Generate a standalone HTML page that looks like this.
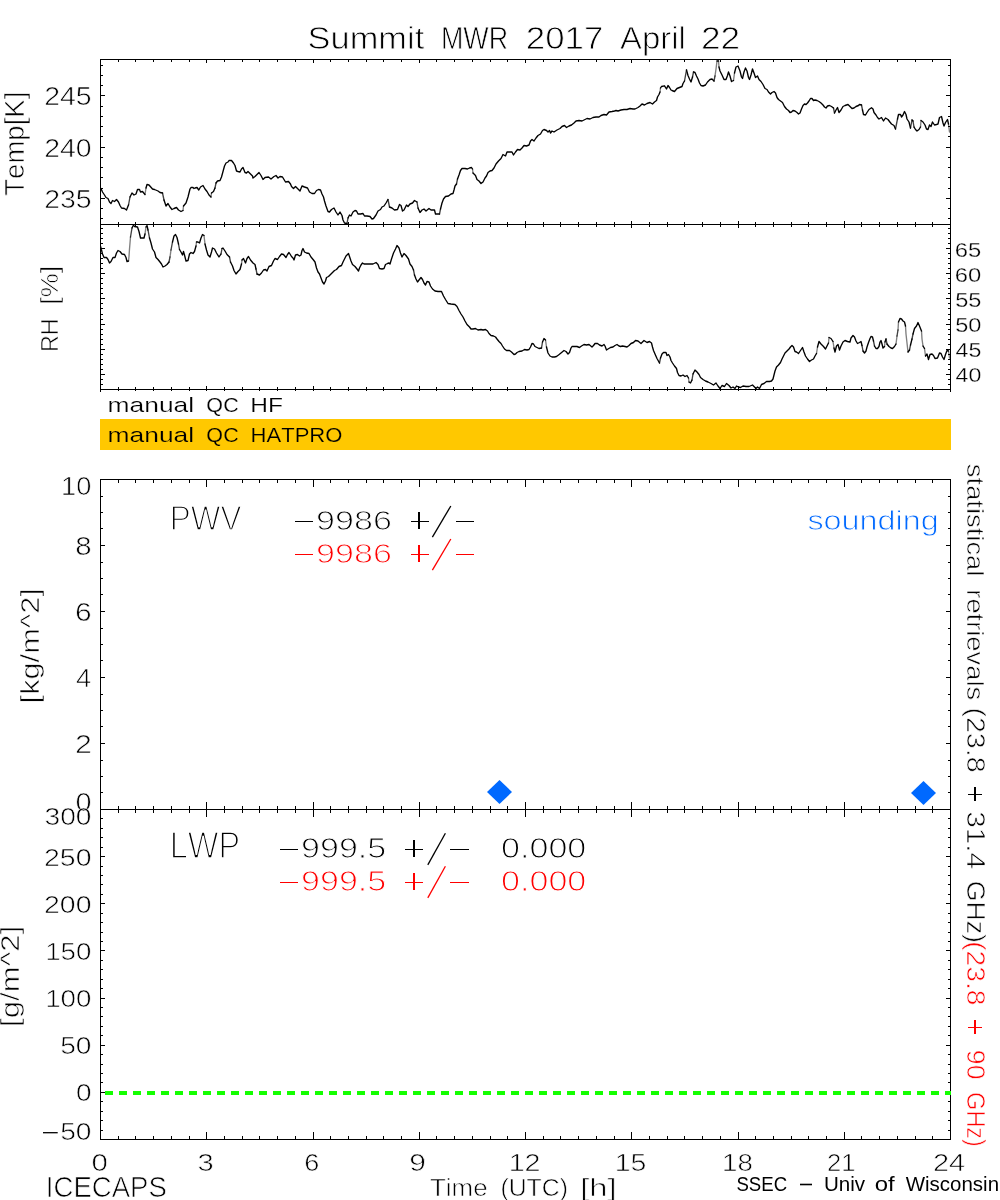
<!DOCTYPE html>
<html><head><meta charset="utf-8"><style>
html,body{margin:0;padding:0;background:#fff;}
svg{display:block;will-change:transform;}
text{font-family:"Liberation Sans", sans-serif;font-kerning:none;}
</style></head><body>
<svg width="1000" height="1200" viewBox="0 0 1000 1200">
<rect width="1000" height="1200" fill="#fff"/>
<rect x="100" y="59" width="851" height="1" fill="#000"/>
<rect x="100" y="224" width="851" height="1" fill="#000"/>
<rect x="100" y="389" width="851" height="1" fill="#000"/>
<rect x="100" y="479" width="851" height="1" fill="#000"/>
<rect x="100" y="809" width="851" height="1" fill="#000"/>
<rect x="100" y="1139" width="851" height="1" fill="#000"/>
<rect x="100" y="59" width="1" height="333" fill="#000"/>
<rect x="950" y="59" width="1" height="333" fill="#000"/>
<rect x="100" y="479" width="1" height="661" fill="#000"/>
<rect x="950" y="479" width="1" height="661" fill="#000"/>
<rect x="118" y="60" width="1" height="2" fill="#000"/>
<rect x="118" y="222" width="1" height="2" fill="#000"/>
<rect x="135" y="60" width="1" height="2" fill="#000"/>
<rect x="135" y="222" width="1" height="2" fill="#000"/>
<rect x="153" y="60" width="1" height="2" fill="#000"/>
<rect x="153" y="222" width="1" height="2" fill="#000"/>
<rect x="171" y="60" width="1" height="2" fill="#000"/>
<rect x="171" y="222" width="1" height="2" fill="#000"/>
<rect x="189" y="60" width="1" height="2" fill="#000"/>
<rect x="189" y="222" width="1" height="2" fill="#000"/>
<rect x="206" y="60" width="1" height="3" fill="#000"/>
<rect x="206" y="221" width="1" height="3" fill="#000"/>
<rect x="224" y="60" width="1" height="2" fill="#000"/>
<rect x="224" y="222" width="1" height="2" fill="#000"/>
<rect x="242" y="60" width="1" height="2" fill="#000"/>
<rect x="242" y="222" width="1" height="2" fill="#000"/>
<rect x="259" y="60" width="1" height="2" fill="#000"/>
<rect x="259" y="222" width="1" height="2" fill="#000"/>
<rect x="277" y="60" width="1" height="2" fill="#000"/>
<rect x="277" y="222" width="1" height="2" fill="#000"/>
<rect x="295" y="60" width="1" height="2" fill="#000"/>
<rect x="295" y="222" width="1" height="2" fill="#000"/>
<rect x="313" y="60" width="1" height="3" fill="#000"/>
<rect x="313" y="221" width="1" height="3" fill="#000"/>
<rect x="330" y="60" width="1" height="2" fill="#000"/>
<rect x="330" y="222" width="1" height="2" fill="#000"/>
<rect x="348" y="60" width="1" height="2" fill="#000"/>
<rect x="348" y="222" width="1" height="2" fill="#000"/>
<rect x="366" y="60" width="1" height="2" fill="#000"/>
<rect x="366" y="222" width="1" height="2" fill="#000"/>
<rect x="383" y="60" width="1" height="2" fill="#000"/>
<rect x="383" y="222" width="1" height="2" fill="#000"/>
<rect x="401" y="60" width="1" height="2" fill="#000"/>
<rect x="401" y="222" width="1" height="2" fill="#000"/>
<rect x="419" y="60" width="1" height="3" fill="#000"/>
<rect x="419" y="221" width="1" height="3" fill="#000"/>
<rect x="436" y="60" width="1" height="2" fill="#000"/>
<rect x="436" y="222" width="1" height="2" fill="#000"/>
<rect x="454" y="60" width="1" height="2" fill="#000"/>
<rect x="454" y="222" width="1" height="2" fill="#000"/>
<rect x="472" y="60" width="1" height="2" fill="#000"/>
<rect x="472" y="222" width="1" height="2" fill="#000"/>
<rect x="490" y="60" width="1" height="2" fill="#000"/>
<rect x="490" y="222" width="1" height="2" fill="#000"/>
<rect x="507" y="60" width="1" height="2" fill="#000"/>
<rect x="507" y="222" width="1" height="2" fill="#000"/>
<rect x="525" y="60" width="1" height="3" fill="#000"/>
<rect x="525" y="221" width="1" height="3" fill="#000"/>
<rect x="543" y="60" width="1" height="2" fill="#000"/>
<rect x="543" y="222" width="1" height="2" fill="#000"/>
<rect x="560" y="60" width="1" height="2" fill="#000"/>
<rect x="560" y="222" width="1" height="2" fill="#000"/>
<rect x="578" y="60" width="1" height="2" fill="#000"/>
<rect x="578" y="222" width="1" height="2" fill="#000"/>
<rect x="596" y="60" width="1" height="2" fill="#000"/>
<rect x="596" y="222" width="1" height="2" fill="#000"/>
<rect x="614" y="60" width="1" height="2" fill="#000"/>
<rect x="614" y="222" width="1" height="2" fill="#000"/>
<rect x="631" y="60" width="1" height="3" fill="#000"/>
<rect x="631" y="221" width="1" height="3" fill="#000"/>
<rect x="649" y="60" width="1" height="2" fill="#000"/>
<rect x="649" y="222" width="1" height="2" fill="#000"/>
<rect x="667" y="60" width="1" height="2" fill="#000"/>
<rect x="667" y="222" width="1" height="2" fill="#000"/>
<rect x="684" y="60" width="1" height="2" fill="#000"/>
<rect x="684" y="222" width="1" height="2" fill="#000"/>
<rect x="702" y="60" width="1" height="2" fill="#000"/>
<rect x="702" y="222" width="1" height="2" fill="#000"/>
<rect x="720" y="60" width="1" height="2" fill="#000"/>
<rect x="720" y="222" width="1" height="2" fill="#000"/>
<rect x="738" y="60" width="1" height="3" fill="#000"/>
<rect x="738" y="221" width="1" height="3" fill="#000"/>
<rect x="755" y="60" width="1" height="2" fill="#000"/>
<rect x="755" y="222" width="1" height="2" fill="#000"/>
<rect x="773" y="60" width="1" height="2" fill="#000"/>
<rect x="773" y="222" width="1" height="2" fill="#000"/>
<rect x="791" y="60" width="1" height="2" fill="#000"/>
<rect x="791" y="222" width="1" height="2" fill="#000"/>
<rect x="808" y="60" width="1" height="2" fill="#000"/>
<rect x="808" y="222" width="1" height="2" fill="#000"/>
<rect x="826" y="60" width="1" height="2" fill="#000"/>
<rect x="826" y="222" width="1" height="2" fill="#000"/>
<rect x="844" y="60" width="1" height="3" fill="#000"/>
<rect x="844" y="221" width="1" height="3" fill="#000"/>
<rect x="861" y="60" width="1" height="2" fill="#000"/>
<rect x="861" y="222" width="1" height="2" fill="#000"/>
<rect x="879" y="60" width="1" height="2" fill="#000"/>
<rect x="879" y="222" width="1" height="2" fill="#000"/>
<rect x="897" y="60" width="1" height="2" fill="#000"/>
<rect x="897" y="222" width="1" height="2" fill="#000"/>
<rect x="915" y="60" width="1" height="2" fill="#000"/>
<rect x="915" y="222" width="1" height="2" fill="#000"/>
<rect x="932" y="60" width="1" height="2" fill="#000"/>
<rect x="932" y="222" width="1" height="2" fill="#000"/>
<rect x="118" y="225" width="1" height="2" fill="#000"/>
<rect x="118" y="387" width="1" height="2" fill="#000"/>
<rect x="135" y="225" width="1" height="2" fill="#000"/>
<rect x="135" y="387" width="1" height="2" fill="#000"/>
<rect x="153" y="225" width="1" height="2" fill="#000"/>
<rect x="153" y="387" width="1" height="2" fill="#000"/>
<rect x="171" y="225" width="1" height="2" fill="#000"/>
<rect x="171" y="387" width="1" height="2" fill="#000"/>
<rect x="189" y="225" width="1" height="2" fill="#000"/>
<rect x="189" y="387" width="1" height="2" fill="#000"/>
<rect x="206" y="225" width="1" height="3" fill="#000"/>
<rect x="206" y="386" width="1" height="3" fill="#000"/>
<rect x="224" y="225" width="1" height="2" fill="#000"/>
<rect x="224" y="387" width="1" height="2" fill="#000"/>
<rect x="242" y="225" width="1" height="2" fill="#000"/>
<rect x="242" y="387" width="1" height="2" fill="#000"/>
<rect x="259" y="225" width="1" height="2" fill="#000"/>
<rect x="259" y="387" width="1" height="2" fill="#000"/>
<rect x="277" y="225" width="1" height="2" fill="#000"/>
<rect x="277" y="387" width="1" height="2" fill="#000"/>
<rect x="295" y="225" width="1" height="2" fill="#000"/>
<rect x="295" y="387" width="1" height="2" fill="#000"/>
<rect x="313" y="225" width="1" height="3" fill="#000"/>
<rect x="313" y="386" width="1" height="3" fill="#000"/>
<rect x="330" y="225" width="1" height="2" fill="#000"/>
<rect x="330" y="387" width="1" height="2" fill="#000"/>
<rect x="348" y="225" width="1" height="2" fill="#000"/>
<rect x="348" y="387" width="1" height="2" fill="#000"/>
<rect x="366" y="225" width="1" height="2" fill="#000"/>
<rect x="366" y="387" width="1" height="2" fill="#000"/>
<rect x="383" y="225" width="1" height="2" fill="#000"/>
<rect x="383" y="387" width="1" height="2" fill="#000"/>
<rect x="401" y="225" width="1" height="2" fill="#000"/>
<rect x="401" y="387" width="1" height="2" fill="#000"/>
<rect x="419" y="225" width="1" height="3" fill="#000"/>
<rect x="419" y="386" width="1" height="3" fill="#000"/>
<rect x="436" y="225" width="1" height="2" fill="#000"/>
<rect x="436" y="387" width="1" height="2" fill="#000"/>
<rect x="454" y="225" width="1" height="2" fill="#000"/>
<rect x="454" y="387" width="1" height="2" fill="#000"/>
<rect x="472" y="225" width="1" height="2" fill="#000"/>
<rect x="472" y="387" width="1" height="2" fill="#000"/>
<rect x="490" y="225" width="1" height="2" fill="#000"/>
<rect x="490" y="387" width="1" height="2" fill="#000"/>
<rect x="507" y="225" width="1" height="2" fill="#000"/>
<rect x="507" y="387" width="1" height="2" fill="#000"/>
<rect x="525" y="225" width="1" height="3" fill="#000"/>
<rect x="525" y="386" width="1" height="3" fill="#000"/>
<rect x="543" y="225" width="1" height="2" fill="#000"/>
<rect x="543" y="387" width="1" height="2" fill="#000"/>
<rect x="560" y="225" width="1" height="2" fill="#000"/>
<rect x="560" y="387" width="1" height="2" fill="#000"/>
<rect x="578" y="225" width="1" height="2" fill="#000"/>
<rect x="578" y="387" width="1" height="2" fill="#000"/>
<rect x="596" y="225" width="1" height="2" fill="#000"/>
<rect x="596" y="387" width="1" height="2" fill="#000"/>
<rect x="614" y="225" width="1" height="2" fill="#000"/>
<rect x="614" y="387" width="1" height="2" fill="#000"/>
<rect x="631" y="225" width="1" height="3" fill="#000"/>
<rect x="631" y="386" width="1" height="3" fill="#000"/>
<rect x="649" y="225" width="1" height="2" fill="#000"/>
<rect x="649" y="387" width="1" height="2" fill="#000"/>
<rect x="667" y="225" width="1" height="2" fill="#000"/>
<rect x="667" y="387" width="1" height="2" fill="#000"/>
<rect x="684" y="225" width="1" height="2" fill="#000"/>
<rect x="684" y="387" width="1" height="2" fill="#000"/>
<rect x="702" y="225" width="1" height="2" fill="#000"/>
<rect x="702" y="387" width="1" height="2" fill="#000"/>
<rect x="720" y="225" width="1" height="2" fill="#000"/>
<rect x="720" y="387" width="1" height="2" fill="#000"/>
<rect x="738" y="225" width="1" height="3" fill="#000"/>
<rect x="738" y="386" width="1" height="3" fill="#000"/>
<rect x="755" y="225" width="1" height="2" fill="#000"/>
<rect x="755" y="387" width="1" height="2" fill="#000"/>
<rect x="773" y="225" width="1" height="2" fill="#000"/>
<rect x="773" y="387" width="1" height="2" fill="#000"/>
<rect x="791" y="225" width="1" height="2" fill="#000"/>
<rect x="791" y="387" width="1" height="2" fill="#000"/>
<rect x="808" y="225" width="1" height="2" fill="#000"/>
<rect x="808" y="387" width="1" height="2" fill="#000"/>
<rect x="826" y="225" width="1" height="2" fill="#000"/>
<rect x="826" y="387" width="1" height="2" fill="#000"/>
<rect x="844" y="225" width="1" height="3" fill="#000"/>
<rect x="844" y="386" width="1" height="3" fill="#000"/>
<rect x="861" y="225" width="1" height="2" fill="#000"/>
<rect x="861" y="387" width="1" height="2" fill="#000"/>
<rect x="879" y="225" width="1" height="2" fill="#000"/>
<rect x="879" y="387" width="1" height="2" fill="#000"/>
<rect x="897" y="225" width="1" height="2" fill="#000"/>
<rect x="897" y="387" width="1" height="2" fill="#000"/>
<rect x="915" y="225" width="1" height="2" fill="#000"/>
<rect x="915" y="387" width="1" height="2" fill="#000"/>
<rect x="932" y="225" width="1" height="2" fill="#000"/>
<rect x="932" y="387" width="1" height="2" fill="#000"/>
<rect x="118" y="390" width="1" height="1" fill="#000"/>
<rect x="135" y="390" width="1" height="1" fill="#000"/>
<rect x="153" y="390" width="1" height="1" fill="#000"/>
<rect x="171" y="390" width="1" height="1" fill="#000"/>
<rect x="189" y="390" width="1" height="1" fill="#000"/>
<rect x="206" y="390" width="1" height="1" fill="#000"/>
<rect x="224" y="390" width="1" height="1" fill="#000"/>
<rect x="242" y="390" width="1" height="1" fill="#000"/>
<rect x="259" y="390" width="1" height="1" fill="#000"/>
<rect x="277" y="390" width="1" height="1" fill="#000"/>
<rect x="295" y="390" width="1" height="1" fill="#000"/>
<rect x="313" y="390" width="1" height="1" fill="#000"/>
<rect x="330" y="390" width="1" height="1" fill="#000"/>
<rect x="348" y="390" width="1" height="1" fill="#000"/>
<rect x="366" y="390" width="1" height="1" fill="#000"/>
<rect x="383" y="390" width="1" height="1" fill="#000"/>
<rect x="401" y="390" width="1" height="1" fill="#000"/>
<rect x="419" y="390" width="1" height="1" fill="#000"/>
<rect x="436" y="390" width="1" height="1" fill="#000"/>
<rect x="454" y="390" width="1" height="1" fill="#000"/>
<rect x="472" y="390" width="1" height="1" fill="#000"/>
<rect x="490" y="390" width="1" height="1" fill="#000"/>
<rect x="507" y="390" width="1" height="1" fill="#000"/>
<rect x="525" y="390" width="1" height="1" fill="#000"/>
<rect x="543" y="390" width="1" height="1" fill="#000"/>
<rect x="560" y="390" width="1" height="1" fill="#000"/>
<rect x="578" y="390" width="1" height="1" fill="#000"/>
<rect x="596" y="390" width="1" height="1" fill="#000"/>
<rect x="614" y="390" width="1" height="1" fill="#000"/>
<rect x="631" y="390" width="1" height="1" fill="#000"/>
<rect x="649" y="390" width="1" height="1" fill="#000"/>
<rect x="667" y="390" width="1" height="1" fill="#000"/>
<rect x="684" y="390" width="1" height="1" fill="#000"/>
<rect x="702" y="390" width="1" height="1" fill="#000"/>
<rect x="720" y="390" width="1" height="1" fill="#000"/>
<rect x="738" y="390" width="1" height="1" fill="#000"/>
<rect x="755" y="390" width="1" height="1" fill="#000"/>
<rect x="773" y="390" width="1" height="1" fill="#000"/>
<rect x="791" y="390" width="1" height="1" fill="#000"/>
<rect x="808" y="390" width="1" height="1" fill="#000"/>
<rect x="826" y="390" width="1" height="1" fill="#000"/>
<rect x="844" y="390" width="1" height="1" fill="#000"/>
<rect x="861" y="390" width="1" height="1" fill="#000"/>
<rect x="879" y="390" width="1" height="1" fill="#000"/>
<rect x="897" y="390" width="1" height="1" fill="#000"/>
<rect x="915" y="390" width="1" height="1" fill="#000"/>
<rect x="932" y="390" width="1" height="1" fill="#000"/>
<rect x="118" y="480" width="1" height="3" fill="#000"/>
<rect x="118" y="806" width="1" height="3" fill="#000"/>
<rect x="135" y="480" width="1" height="3" fill="#000"/>
<rect x="135" y="806" width="1" height="3" fill="#000"/>
<rect x="153" y="480" width="1" height="3" fill="#000"/>
<rect x="153" y="806" width="1" height="3" fill="#000"/>
<rect x="171" y="480" width="1" height="3" fill="#000"/>
<rect x="171" y="806" width="1" height="3" fill="#000"/>
<rect x="189" y="480" width="1" height="3" fill="#000"/>
<rect x="189" y="806" width="1" height="3" fill="#000"/>
<rect x="206" y="480" width="1" height="7" fill="#000"/>
<rect x="206" y="802" width="1" height="7" fill="#000"/>
<rect x="224" y="480" width="1" height="3" fill="#000"/>
<rect x="224" y="806" width="1" height="3" fill="#000"/>
<rect x="242" y="480" width="1" height="3" fill="#000"/>
<rect x="242" y="806" width="1" height="3" fill="#000"/>
<rect x="259" y="480" width="1" height="3" fill="#000"/>
<rect x="259" y="806" width="1" height="3" fill="#000"/>
<rect x="277" y="480" width="1" height="3" fill="#000"/>
<rect x="277" y="806" width="1" height="3" fill="#000"/>
<rect x="295" y="480" width="1" height="3" fill="#000"/>
<rect x="295" y="806" width="1" height="3" fill="#000"/>
<rect x="313" y="480" width="1" height="7" fill="#000"/>
<rect x="313" y="802" width="1" height="7" fill="#000"/>
<rect x="330" y="480" width="1" height="3" fill="#000"/>
<rect x="330" y="806" width="1" height="3" fill="#000"/>
<rect x="348" y="480" width="1" height="3" fill="#000"/>
<rect x="348" y="806" width="1" height="3" fill="#000"/>
<rect x="366" y="480" width="1" height="3" fill="#000"/>
<rect x="366" y="806" width="1" height="3" fill="#000"/>
<rect x="383" y="480" width="1" height="3" fill="#000"/>
<rect x="383" y="806" width="1" height="3" fill="#000"/>
<rect x="401" y="480" width="1" height="3" fill="#000"/>
<rect x="401" y="806" width="1" height="3" fill="#000"/>
<rect x="419" y="480" width="1" height="7" fill="#000"/>
<rect x="419" y="802" width="1" height="7" fill="#000"/>
<rect x="436" y="480" width="1" height="3" fill="#000"/>
<rect x="436" y="806" width="1" height="3" fill="#000"/>
<rect x="454" y="480" width="1" height="3" fill="#000"/>
<rect x="454" y="806" width="1" height="3" fill="#000"/>
<rect x="472" y="480" width="1" height="3" fill="#000"/>
<rect x="472" y="806" width="1" height="3" fill="#000"/>
<rect x="490" y="480" width="1" height="3" fill="#000"/>
<rect x="490" y="806" width="1" height="3" fill="#000"/>
<rect x="507" y="480" width="1" height="3" fill="#000"/>
<rect x="507" y="806" width="1" height="3" fill="#000"/>
<rect x="525" y="480" width="1" height="7" fill="#000"/>
<rect x="525" y="802" width="1" height="7" fill="#000"/>
<rect x="543" y="480" width="1" height="3" fill="#000"/>
<rect x="543" y="806" width="1" height="3" fill="#000"/>
<rect x="560" y="480" width="1" height="3" fill="#000"/>
<rect x="560" y="806" width="1" height="3" fill="#000"/>
<rect x="578" y="480" width="1" height="3" fill="#000"/>
<rect x="578" y="806" width="1" height="3" fill="#000"/>
<rect x="596" y="480" width="1" height="3" fill="#000"/>
<rect x="596" y="806" width="1" height="3" fill="#000"/>
<rect x="614" y="480" width="1" height="3" fill="#000"/>
<rect x="614" y="806" width="1" height="3" fill="#000"/>
<rect x="631" y="480" width="1" height="7" fill="#000"/>
<rect x="631" y="802" width="1" height="7" fill="#000"/>
<rect x="649" y="480" width="1" height="3" fill="#000"/>
<rect x="649" y="806" width="1" height="3" fill="#000"/>
<rect x="667" y="480" width="1" height="3" fill="#000"/>
<rect x="667" y="806" width="1" height="3" fill="#000"/>
<rect x="684" y="480" width="1" height="3" fill="#000"/>
<rect x="684" y="806" width="1" height="3" fill="#000"/>
<rect x="702" y="480" width="1" height="3" fill="#000"/>
<rect x="702" y="806" width="1" height="3" fill="#000"/>
<rect x="720" y="480" width="1" height="3" fill="#000"/>
<rect x="720" y="806" width="1" height="3" fill="#000"/>
<rect x="738" y="480" width="1" height="7" fill="#000"/>
<rect x="738" y="802" width="1" height="7" fill="#000"/>
<rect x="755" y="480" width="1" height="3" fill="#000"/>
<rect x="755" y="806" width="1" height="3" fill="#000"/>
<rect x="773" y="480" width="1" height="3" fill="#000"/>
<rect x="773" y="806" width="1" height="3" fill="#000"/>
<rect x="791" y="480" width="1" height="3" fill="#000"/>
<rect x="791" y="806" width="1" height="3" fill="#000"/>
<rect x="808" y="480" width="1" height="3" fill="#000"/>
<rect x="808" y="806" width="1" height="3" fill="#000"/>
<rect x="826" y="480" width="1" height="3" fill="#000"/>
<rect x="826" y="806" width="1" height="3" fill="#000"/>
<rect x="844" y="480" width="1" height="7" fill="#000"/>
<rect x="844" y="802" width="1" height="7" fill="#000"/>
<rect x="861" y="480" width="1" height="3" fill="#000"/>
<rect x="861" y="806" width="1" height="3" fill="#000"/>
<rect x="879" y="480" width="1" height="3" fill="#000"/>
<rect x="879" y="806" width="1" height="3" fill="#000"/>
<rect x="897" y="480" width="1" height="3" fill="#000"/>
<rect x="897" y="806" width="1" height="3" fill="#000"/>
<rect x="915" y="480" width="1" height="3" fill="#000"/>
<rect x="915" y="806" width="1" height="3" fill="#000"/>
<rect x="932" y="480" width="1" height="3" fill="#000"/>
<rect x="932" y="806" width="1" height="3" fill="#000"/>
<rect x="118" y="810" width="1" height="3" fill="#000"/>
<rect x="118" y="1136" width="1" height="3" fill="#000"/>
<rect x="135" y="810" width="1" height="3" fill="#000"/>
<rect x="135" y="1136" width="1" height="3" fill="#000"/>
<rect x="153" y="810" width="1" height="3" fill="#000"/>
<rect x="153" y="1136" width="1" height="3" fill="#000"/>
<rect x="171" y="810" width="1" height="3" fill="#000"/>
<rect x="171" y="1136" width="1" height="3" fill="#000"/>
<rect x="189" y="810" width="1" height="3" fill="#000"/>
<rect x="189" y="1136" width="1" height="3" fill="#000"/>
<rect x="206" y="810" width="1" height="7" fill="#000"/>
<rect x="206" y="1132" width="1" height="7" fill="#000"/>
<rect x="224" y="810" width="1" height="3" fill="#000"/>
<rect x="224" y="1136" width="1" height="3" fill="#000"/>
<rect x="242" y="810" width="1" height="3" fill="#000"/>
<rect x="242" y="1136" width="1" height="3" fill="#000"/>
<rect x="259" y="810" width="1" height="3" fill="#000"/>
<rect x="259" y="1136" width="1" height="3" fill="#000"/>
<rect x="277" y="810" width="1" height="3" fill="#000"/>
<rect x="277" y="1136" width="1" height="3" fill="#000"/>
<rect x="295" y="810" width="1" height="3" fill="#000"/>
<rect x="295" y="1136" width="1" height="3" fill="#000"/>
<rect x="313" y="810" width="1" height="7" fill="#000"/>
<rect x="313" y="1132" width="1" height="7" fill="#000"/>
<rect x="330" y="810" width="1" height="3" fill="#000"/>
<rect x="330" y="1136" width="1" height="3" fill="#000"/>
<rect x="348" y="810" width="1" height="3" fill="#000"/>
<rect x="348" y="1136" width="1" height="3" fill="#000"/>
<rect x="366" y="810" width="1" height="3" fill="#000"/>
<rect x="366" y="1136" width="1" height="3" fill="#000"/>
<rect x="383" y="810" width="1" height="3" fill="#000"/>
<rect x="383" y="1136" width="1" height="3" fill="#000"/>
<rect x="401" y="810" width="1" height="3" fill="#000"/>
<rect x="401" y="1136" width="1" height="3" fill="#000"/>
<rect x="419" y="810" width="1" height="7" fill="#000"/>
<rect x="419" y="1132" width="1" height="7" fill="#000"/>
<rect x="436" y="810" width="1" height="3" fill="#000"/>
<rect x="436" y="1136" width="1" height="3" fill="#000"/>
<rect x="454" y="810" width="1" height="3" fill="#000"/>
<rect x="454" y="1136" width="1" height="3" fill="#000"/>
<rect x="472" y="810" width="1" height="3" fill="#000"/>
<rect x="472" y="1136" width="1" height="3" fill="#000"/>
<rect x="490" y="810" width="1" height="3" fill="#000"/>
<rect x="490" y="1136" width="1" height="3" fill="#000"/>
<rect x="507" y="810" width="1" height="3" fill="#000"/>
<rect x="507" y="1136" width="1" height="3" fill="#000"/>
<rect x="525" y="810" width="1" height="7" fill="#000"/>
<rect x="525" y="1132" width="1" height="7" fill="#000"/>
<rect x="543" y="810" width="1" height="3" fill="#000"/>
<rect x="543" y="1136" width="1" height="3" fill="#000"/>
<rect x="560" y="810" width="1" height="3" fill="#000"/>
<rect x="560" y="1136" width="1" height="3" fill="#000"/>
<rect x="578" y="810" width="1" height="3" fill="#000"/>
<rect x="578" y="1136" width="1" height="3" fill="#000"/>
<rect x="596" y="810" width="1" height="3" fill="#000"/>
<rect x="596" y="1136" width="1" height="3" fill="#000"/>
<rect x="614" y="810" width="1" height="3" fill="#000"/>
<rect x="614" y="1136" width="1" height="3" fill="#000"/>
<rect x="631" y="810" width="1" height="7" fill="#000"/>
<rect x="631" y="1132" width="1" height="7" fill="#000"/>
<rect x="649" y="810" width="1" height="3" fill="#000"/>
<rect x="649" y="1136" width="1" height="3" fill="#000"/>
<rect x="667" y="810" width="1" height="3" fill="#000"/>
<rect x="667" y="1136" width="1" height="3" fill="#000"/>
<rect x="684" y="810" width="1" height="3" fill="#000"/>
<rect x="684" y="1136" width="1" height="3" fill="#000"/>
<rect x="702" y="810" width="1" height="3" fill="#000"/>
<rect x="702" y="1136" width="1" height="3" fill="#000"/>
<rect x="720" y="810" width="1" height="3" fill="#000"/>
<rect x="720" y="1136" width="1" height="3" fill="#000"/>
<rect x="738" y="810" width="1" height="7" fill="#000"/>
<rect x="738" y="1132" width="1" height="7" fill="#000"/>
<rect x="755" y="810" width="1" height="3" fill="#000"/>
<rect x="755" y="1136" width="1" height="3" fill="#000"/>
<rect x="773" y="810" width="1" height="3" fill="#000"/>
<rect x="773" y="1136" width="1" height="3" fill="#000"/>
<rect x="791" y="810" width="1" height="3" fill="#000"/>
<rect x="791" y="1136" width="1" height="3" fill="#000"/>
<rect x="808" y="810" width="1" height="3" fill="#000"/>
<rect x="808" y="1136" width="1" height="3" fill="#000"/>
<rect x="826" y="810" width="1" height="3" fill="#000"/>
<rect x="826" y="1136" width="1" height="3" fill="#000"/>
<rect x="844" y="810" width="1" height="7" fill="#000"/>
<rect x="844" y="1132" width="1" height="7" fill="#000"/>
<rect x="861" y="810" width="1" height="3" fill="#000"/>
<rect x="861" y="1136" width="1" height="3" fill="#000"/>
<rect x="879" y="810" width="1" height="3" fill="#000"/>
<rect x="879" y="1136" width="1" height="3" fill="#000"/>
<rect x="897" y="810" width="1" height="3" fill="#000"/>
<rect x="897" y="1136" width="1" height="3" fill="#000"/>
<rect x="915" y="810" width="1" height="3" fill="#000"/>
<rect x="915" y="1136" width="1" height="3" fill="#000"/>
<rect x="932" y="810" width="1" height="3" fill="#000"/>
<rect x="932" y="1136" width="1" height="3" fill="#000"/>
<rect x="101" y="65" width="2" height="1" fill="#000"/>
<rect x="948" y="65" width="2" height="1" fill="#000"/>
<rect x="101" y="75" width="2" height="1" fill="#000"/>
<rect x="948" y="75" width="2" height="1" fill="#000"/>
<rect x="101" y="85" width="2" height="1" fill="#000"/>
<rect x="948" y="85" width="2" height="1" fill="#000"/>
<rect x="101" y="95" width="4" height="1" fill="#000"/>
<rect x="946" y="95" width="4" height="1" fill="#000"/>
<rect x="101" y="106" width="2" height="1" fill="#000"/>
<rect x="948" y="106" width="2" height="1" fill="#000"/>
<rect x="101" y="116" width="2" height="1" fill="#000"/>
<rect x="948" y="116" width="2" height="1" fill="#000"/>
<rect x="101" y="126" width="2" height="1" fill="#000"/>
<rect x="948" y="126" width="2" height="1" fill="#000"/>
<rect x="101" y="136" width="2" height="1" fill="#000"/>
<rect x="948" y="136" width="2" height="1" fill="#000"/>
<rect x="101" y="147" width="4" height="1" fill="#000"/>
<rect x="946" y="147" width="4" height="1" fill="#000"/>
<rect x="101" y="157" width="2" height="1" fill="#000"/>
<rect x="948" y="157" width="2" height="1" fill="#000"/>
<rect x="101" y="167" width="2" height="1" fill="#000"/>
<rect x="948" y="167" width="2" height="1" fill="#000"/>
<rect x="101" y="177" width="2" height="1" fill="#000"/>
<rect x="948" y="177" width="2" height="1" fill="#000"/>
<rect x="101" y="188" width="2" height="1" fill="#000"/>
<rect x="948" y="188" width="2" height="1" fill="#000"/>
<rect x="101" y="198" width="4" height="1" fill="#000"/>
<rect x="946" y="198" width="4" height="1" fill="#000"/>
<rect x="101" y="208" width="2" height="1" fill="#000"/>
<rect x="948" y="208" width="2" height="1" fill="#000"/>
<rect x="101" y="218" width="2" height="1" fill="#000"/>
<rect x="948" y="218" width="2" height="1" fill="#000"/>
<rect x="101" y="384" width="2" height="1" fill="#000"/>
<rect x="948" y="384" width="2" height="1" fill="#000"/>
<rect x="101" y="379" width="2" height="1" fill="#000"/>
<rect x="948" y="379" width="2" height="1" fill="#000"/>
<rect x="101" y="374" width="4" height="1" fill="#000"/>
<rect x="946" y="374" width="4" height="1" fill="#000"/>
<rect x="101" y="369" width="2" height="1" fill="#000"/>
<rect x="948" y="369" width="2" height="1" fill="#000"/>
<rect x="101" y="364" width="2" height="1" fill="#000"/>
<rect x="948" y="364" width="2" height="1" fill="#000"/>
<rect x="101" y="359" width="2" height="1" fill="#000"/>
<rect x="948" y="359" width="2" height="1" fill="#000"/>
<rect x="101" y="354" width="2" height="1" fill="#000"/>
<rect x="948" y="354" width="2" height="1" fill="#000"/>
<rect x="101" y="349" width="4" height="1" fill="#000"/>
<rect x="946" y="349" width="4" height="1" fill="#000"/>
<rect x="101" y="344" width="2" height="1" fill="#000"/>
<rect x="948" y="344" width="2" height="1" fill="#000"/>
<rect x="101" y="339" width="2" height="1" fill="#000"/>
<rect x="948" y="339" width="2" height="1" fill="#000"/>
<rect x="101" y="334" width="2" height="1" fill="#000"/>
<rect x="948" y="334" width="2" height="1" fill="#000"/>
<rect x="101" y="329" width="2" height="1" fill="#000"/>
<rect x="948" y="329" width="2" height="1" fill="#000"/>
<rect x="101" y="324" width="4" height="1" fill="#000"/>
<rect x="946" y="324" width="4" height="1" fill="#000"/>
<rect x="101" y="319" width="2" height="1" fill="#000"/>
<rect x="948" y="319" width="2" height="1" fill="#000"/>
<rect x="101" y="314" width="2" height="1" fill="#000"/>
<rect x="948" y="314" width="2" height="1" fill="#000"/>
<rect x="101" y="308" width="2" height="1" fill="#000"/>
<rect x="948" y="308" width="2" height="1" fill="#000"/>
<rect x="101" y="303" width="2" height="1" fill="#000"/>
<rect x="948" y="303" width="2" height="1" fill="#000"/>
<rect x="101" y="298" width="4" height="1" fill="#000"/>
<rect x="946" y="298" width="4" height="1" fill="#000"/>
<rect x="101" y="293" width="2" height="1" fill="#000"/>
<rect x="948" y="293" width="2" height="1" fill="#000"/>
<rect x="101" y="288" width="2" height="1" fill="#000"/>
<rect x="948" y="288" width="2" height="1" fill="#000"/>
<rect x="101" y="283" width="2" height="1" fill="#000"/>
<rect x="948" y="283" width="2" height="1" fill="#000"/>
<rect x="101" y="278" width="2" height="1" fill="#000"/>
<rect x="948" y="278" width="2" height="1" fill="#000"/>
<rect x="101" y="273" width="4" height="1" fill="#000"/>
<rect x="946" y="273" width="4" height="1" fill="#000"/>
<rect x="101" y="268" width="2" height="1" fill="#000"/>
<rect x="948" y="268" width="2" height="1" fill="#000"/>
<rect x="101" y="263" width="2" height="1" fill="#000"/>
<rect x="948" y="263" width="2" height="1" fill="#000"/>
<rect x="101" y="258" width="2" height="1" fill="#000"/>
<rect x="948" y="258" width="2" height="1" fill="#000"/>
<rect x="101" y="253" width="2" height="1" fill="#000"/>
<rect x="948" y="253" width="2" height="1" fill="#000"/>
<rect x="101" y="248" width="4" height="1" fill="#000"/>
<rect x="946" y="248" width="4" height="1" fill="#000"/>
<rect x="101" y="243" width="2" height="1" fill="#000"/>
<rect x="948" y="243" width="2" height="1" fill="#000"/>
<rect x="101" y="238" width="2" height="1" fill="#000"/>
<rect x="948" y="238" width="2" height="1" fill="#000"/>
<rect x="101" y="233" width="2" height="1" fill="#000"/>
<rect x="948" y="233" width="2" height="1" fill="#000"/>
<rect x="101" y="228" width="2" height="1" fill="#000"/>
<rect x="948" y="228" width="2" height="1" fill="#000"/>
<rect x="101" y="792" width="2" height="1" fill="#000"/>
<rect x="948" y="792" width="2" height="1" fill="#000"/>
<rect x="101" y="776" width="2" height="1" fill="#000"/>
<rect x="948" y="776" width="2" height="1" fill="#000"/>
<rect x="101" y="760" width="2" height="1" fill="#000"/>
<rect x="948" y="760" width="2" height="1" fill="#000"/>
<rect x="101" y="743" width="4" height="1" fill="#000"/>
<rect x="946" y="743" width="4" height="1" fill="#000"/>
<rect x="101" y="726" width="2" height="1" fill="#000"/>
<rect x="948" y="726" width="2" height="1" fill="#000"/>
<rect x="101" y="710" width="2" height="1" fill="#000"/>
<rect x="948" y="710" width="2" height="1" fill="#000"/>
<rect x="101" y="694" width="2" height="1" fill="#000"/>
<rect x="948" y="694" width="2" height="1" fill="#000"/>
<rect x="101" y="677" width="4" height="1" fill="#000"/>
<rect x="946" y="677" width="4" height="1" fill="#000"/>
<rect x="101" y="660" width="2" height="1" fill="#000"/>
<rect x="948" y="660" width="2" height="1" fill="#000"/>
<rect x="101" y="644" width="2" height="1" fill="#000"/>
<rect x="948" y="644" width="2" height="1" fill="#000"/>
<rect x="101" y="628" width="2" height="1" fill="#000"/>
<rect x="948" y="628" width="2" height="1" fill="#000"/>
<rect x="101" y="611" width="4" height="1" fill="#000"/>
<rect x="946" y="611" width="4" height="1" fill="#000"/>
<rect x="101" y="594" width="2" height="1" fill="#000"/>
<rect x="948" y="594" width="2" height="1" fill="#000"/>
<rect x="101" y="578" width="2" height="1" fill="#000"/>
<rect x="948" y="578" width="2" height="1" fill="#000"/>
<rect x="101" y="562" width="2" height="1" fill="#000"/>
<rect x="948" y="562" width="2" height="1" fill="#000"/>
<rect x="101" y="545" width="4" height="1" fill="#000"/>
<rect x="946" y="545" width="4" height="1" fill="#000"/>
<rect x="101" y="528" width="2" height="1" fill="#000"/>
<rect x="948" y="528" width="2" height="1" fill="#000"/>
<rect x="101" y="512" width="2" height="1" fill="#000"/>
<rect x="948" y="512" width="2" height="1" fill="#000"/>
<rect x="101" y="496" width="2" height="1" fill="#000"/>
<rect x="948" y="496" width="2" height="1" fill="#000"/>
<rect x="101" y="1130" width="2" height="1" fill="#000"/>
<rect x="948" y="1130" width="2" height="1" fill="#000"/>
<rect x="101" y="1120" width="2" height="1" fill="#000"/>
<rect x="948" y="1120" width="2" height="1" fill="#000"/>
<rect x="101" y="1111" width="2" height="1" fill="#000"/>
<rect x="948" y="1111" width="2" height="1" fill="#000"/>
<rect x="101" y="1101" width="2" height="1" fill="#000"/>
<rect x="948" y="1101" width="2" height="1" fill="#000"/>
<rect x="101" y="1092" width="4" height="1" fill="#000"/>
<rect x="946" y="1092" width="4" height="1" fill="#000"/>
<rect x="101" y="1082" width="2" height="1" fill="#000"/>
<rect x="948" y="1082" width="2" height="1" fill="#000"/>
<rect x="101" y="1073" width="2" height="1" fill="#000"/>
<rect x="948" y="1073" width="2" height="1" fill="#000"/>
<rect x="101" y="1064" width="2" height="1" fill="#000"/>
<rect x="948" y="1064" width="2" height="1" fill="#000"/>
<rect x="101" y="1054" width="2" height="1" fill="#000"/>
<rect x="948" y="1054" width="2" height="1" fill="#000"/>
<rect x="101" y="1045" width="4" height="1" fill="#000"/>
<rect x="946" y="1045" width="4" height="1" fill="#000"/>
<rect x="101" y="1035" width="2" height="1" fill="#000"/>
<rect x="948" y="1035" width="2" height="1" fill="#000"/>
<rect x="101" y="1026" width="2" height="1" fill="#000"/>
<rect x="948" y="1026" width="2" height="1" fill="#000"/>
<rect x="101" y="1016" width="2" height="1" fill="#000"/>
<rect x="948" y="1016" width="2" height="1" fill="#000"/>
<rect x="101" y="1007" width="2" height="1" fill="#000"/>
<rect x="948" y="1007" width="2" height="1" fill="#000"/>
<rect x="101" y="998" width="4" height="1" fill="#000"/>
<rect x="946" y="998" width="4" height="1" fill="#000"/>
<rect x="101" y="988" width="2" height="1" fill="#000"/>
<rect x="948" y="988" width="2" height="1" fill="#000"/>
<rect x="101" y="979" width="2" height="1" fill="#000"/>
<rect x="948" y="979" width="2" height="1" fill="#000"/>
<rect x="101" y="969" width="2" height="1" fill="#000"/>
<rect x="948" y="969" width="2" height="1" fill="#000"/>
<rect x="101" y="960" width="2" height="1" fill="#000"/>
<rect x="948" y="960" width="2" height="1" fill="#000"/>
<rect x="101" y="950" width="4" height="1" fill="#000"/>
<rect x="946" y="950" width="4" height="1" fill="#000"/>
<rect x="101" y="941" width="2" height="1" fill="#000"/>
<rect x="948" y="941" width="2" height="1" fill="#000"/>
<rect x="101" y="932" width="2" height="1" fill="#000"/>
<rect x="948" y="932" width="2" height="1" fill="#000"/>
<rect x="101" y="922" width="2" height="1" fill="#000"/>
<rect x="948" y="922" width="2" height="1" fill="#000"/>
<rect x="101" y="913" width="2" height="1" fill="#000"/>
<rect x="948" y="913" width="2" height="1" fill="#000"/>
<rect x="101" y="903" width="4" height="1" fill="#000"/>
<rect x="946" y="903" width="4" height="1" fill="#000"/>
<rect x="101" y="894" width="2" height="1" fill="#000"/>
<rect x="948" y="894" width="2" height="1" fill="#000"/>
<rect x="101" y="884" width="2" height="1" fill="#000"/>
<rect x="948" y="884" width="2" height="1" fill="#000"/>
<rect x="101" y="875" width="2" height="1" fill="#000"/>
<rect x="948" y="875" width="2" height="1" fill="#000"/>
<rect x="101" y="866" width="2" height="1" fill="#000"/>
<rect x="948" y="866" width="2" height="1" fill="#000"/>
<rect x="101" y="856" width="4" height="1" fill="#000"/>
<rect x="946" y="856" width="4" height="1" fill="#000"/>
<rect x="101" y="847" width="2" height="1" fill="#000"/>
<rect x="948" y="847" width="2" height="1" fill="#000"/>
<rect x="101" y="837" width="2" height="1" fill="#000"/>
<rect x="948" y="837" width="2" height="1" fill="#000"/>
<rect x="101" y="828" width="2" height="1" fill="#000"/>
<rect x="948" y="828" width="2" height="1" fill="#000"/>
<rect x="101" y="818" width="2" height="1" fill="#000"/>
<rect x="948" y="818" width="2" height="1" fill="#000"/>
<polyline points="101,188.5 102.5,192 104.5,195 106,197.5 108,198.5 109.5,202 111,203.5 112.5,200.5 114.5,201.5 116.5,199.5 118.5,202 120,205.5 121.5,208 124.5,208.5 126.5,210 128.5,205" fill="none" stroke="#000" stroke-width="1.35" stroke-linejoin="round" stroke-linecap="round"/>
<polyline points="128.5,205 130,197" fill="none" stroke="#000" stroke-width="1.35" stroke-linejoin="round" stroke-linecap="round" stroke-opacity="0.75"/>
<polyline points="130,197 132,193 134,195 136,194 137.5,189.5 139.5,189.5 140.5,192 142.5,191.5 145,194.5" fill="none" stroke="#000" stroke-width="1.35" stroke-linejoin="round" stroke-linecap="round"/>
<polyline points="145,194.5 146,188" fill="none" stroke="#000" stroke-width="1.35" stroke-linejoin="round" stroke-linecap="round" stroke-opacity="0.5"/>
<polyline points="146,188 147,184.5 149,185 152.5,189 154.5,189.5 158,191 160,192.5 162.5,193" fill="none" stroke="#000" stroke-width="1.35" stroke-linejoin="round" stroke-linecap="round"/>
<polyline points="162.5,193 164,200" fill="none" stroke="#000" stroke-width="1.35" stroke-linejoin="round" stroke-linecap="round" stroke-opacity="0.75"/>
<polyline points="164,200 166,206 168,203.5 170,207 172,209.5 174,208.5 176.5,207.5 178.5,210 181,211.5 183,210.5" fill="none" stroke="#000" stroke-width="1.35" stroke-linejoin="round" stroke-linecap="round"/>
<polyline points="183,210.5 183.5,206" fill="none" stroke="#000" stroke-width="1.35" stroke-linejoin="round" stroke-linecap="round" stroke-opacity="0.5"/>
<polyline points="183.5,206 186,203 188,197 190,189 191,187.5 193,187.5 194,188.5 195,188 197,187.5 198.8,190 200.5,187 203,185.5 205,189 207,191.5 209,195 211,197" fill="none" stroke="#000" stroke-width="1.35" stroke-linejoin="round" stroke-linecap="round"/>
<polyline points="211,197 211.5,193" fill="none" stroke="#000" stroke-width="1.35" stroke-linejoin="round" stroke-linecap="round" stroke-opacity="0.5"/>
<polyline points="211.5,193 213.5,191.5 215,188" fill="none" stroke="#000" stroke-width="1.35" stroke-linejoin="round" stroke-linecap="round"/>
<polyline points="215,188 216,183" fill="none" stroke="#000" stroke-width="1.35" stroke-linejoin="round" stroke-linecap="round" stroke-opacity="0.75"/>
<polyline points="216,183 217.5,181 220,180.5 221.5,177 223,171.5 224.5,166 226,163 228,162 229,160.5 231.5,160.5 233.5,163 235,165.5 236.5,171 238,171.5 240,172 241.5,169 243,167.5 245,172.5 246.5,173 248,171.5 250.5,174 252.5,176 253,178 255,176.5 257,174.5 259,172.5 261,175.5 263,179.5 265,177.5 268.5,177 271,179 274,176.5 276,175.5 278,178 280,176.5 282.5,177 284,179.5 285.5,182 288.5,181.5 290.5,184 291.5,186.5 293.5,188.5 295.5,186.5 297.5,188.5 300,191 302,186 304.5,187 307.5,188 309.5,192 312,193.5 314.5,193.5 316.5,190.5 318.5,189.5 320.5,190 322,194 323.5,197 324.5,201 326,206 328,211.5 329.5,212 331.5,209.5 334,208 336,212 338,215 340,212 342,215.5 343,220 344.5,223 347,223.5" fill="none" stroke="#000" stroke-width="1.35" stroke-linejoin="round" stroke-linecap="round"/>
<polyline points="347,223.5 348,218" fill="none" stroke="#000" stroke-width="1.35" stroke-linejoin="round" stroke-linecap="round" stroke-opacity="0.75"/>
<polyline points="348,218 349.5,215 351,216 353,212 355,210.5 356.5,211 358,214 360.5,214 363,213.5 364.5,216 367,216 370,216.5 372,219 373.5,218.5 376,215 378,211 380.5,209.5 382,207 384,206 386,203 388,199.5" fill="none" stroke="#000" stroke-width="1.35" stroke-linejoin="round" stroke-linecap="round"/>
<polyline points="388,199.5 389.5,207" fill="none" stroke="#000" stroke-width="1.35" stroke-linejoin="round" stroke-linecap="round" stroke-opacity="0.75"/>
<polyline points="389.5,207 392,208 394.5,210 397.5,209.5 399.5,204.5 401,205.5 402.5,211 404,210 406.5,205 408,206.5 410,204 412.5,203 414.5,200.5 417,202" fill="none" stroke="#000" stroke-width="1.35" stroke-linejoin="round" stroke-linecap="round"/>
<polyline points="417,202 418,208" fill="none" stroke="#000" stroke-width="1.35" stroke-linejoin="round" stroke-linecap="round" stroke-opacity="0.75"/>
<polyline points="418,208 420,212.5 422,210 424,209 426,211 429,208.5 431,210 434.5,210 435.5,214 439.5,214" fill="none" stroke="#000" stroke-width="1.35" stroke-linejoin="round" stroke-linecap="round"/>
<polyline points="439.5,214 440.5,209" fill="none" stroke="#000" stroke-width="1.35" stroke-linejoin="round" stroke-linecap="round" stroke-opacity="0.75"/>
<polyline points="440.5,209 442,203 443.5,199 445.5,196.5 448.5,196 451,194 453,193.5 454,190 455,186 456.5,184" fill="none" stroke="#000" stroke-width="1.35" stroke-linejoin="round" stroke-linecap="round"/>
<polyline points="456.5,184 457.5,179" fill="none" stroke="#000" stroke-width="1.35" stroke-linejoin="round" stroke-linecap="round" stroke-opacity="0.75"/>
<polyline points="457.5,179 459,175 460.5,170.5 462,168.5 465,168.5 467.5,169 469.5,168 471.5,167.5 472.5,169" fill="none" stroke="#000" stroke-width="1.35" stroke-linejoin="round" stroke-linecap="round"/>
<polyline points="472.5,169 473,173" fill="none" stroke="#000" stroke-width="1.35" stroke-linejoin="round" stroke-linecap="round" stroke-opacity="0.5"/>
<polyline points="473,173 475.5,175.5 477,179.5 479,181 481,183.5 483,182 485,178 486.5,176 488,172.5 490,171 492,170.5 494,168 496,164 498.5,161 501,158.5 503,154.5 505.5,156 507,152 509.5,152 512,152 513.5,155 515.5,152 517.5,149.5 520,150 522,148 524,145.5 526.5,146 529,145 530.5,141 532,139.5 534,141 536,138 538,135.5 540.5,134 542.5,130.5 544,129.5 546.5,130.5 548,132 549.5,130.5 550.5,133 552,131 554,132 557,130 560,128.5 562,126.5 564.5,125.5 566.5,127.5 569,126 571.5,125 574,123 576,121 579,120.5 582,121 585,119.5 587,118.5 590,119 593,117.5 596,117 599,117 601,115.5 604,114.5 606.5,115 609,112 612,111.5 614.5,111 616,110.5 618,111 621,110 624,109.5 627,109.5 630,108.5 633,109 635,109 638,107.5 640,106 642,104 644.5,105 647,103.5 650,102.5 652.5,104 654.5,102 656.5,100.5 657.5,97 659,94.5 660,92" fill="none" stroke="#000" stroke-width="1.35" stroke-linejoin="round" stroke-linecap="round"/>
<polyline points="660,92 660.5,88" fill="none" stroke="#000" stroke-width="1.35" stroke-linejoin="round" stroke-linecap="round" stroke-opacity="0.5"/>
<polyline points="660.5,88 661.5,86.5 664.5,85.8 666.5,89 668,85.5 669.5,87.5 671,90 672,90.5 674.5,91.5 677,88.5 679.5,87.5 682,86.5 683,83.5 684.5,81" fill="none" stroke="#000" stroke-width="1.35" stroke-linejoin="round" stroke-linecap="round"/>
<polyline points="684.5,81 685.5,75.5 686.5,70" fill="none" stroke="#000" stroke-width="1.35" stroke-linejoin="round" stroke-linecap="round" stroke-opacity="0.75"/>
<polyline points="686.5,70 688,75.5 689.5,79 691,82 692.5,77" fill="none" stroke="#000" stroke-width="1.35" stroke-linejoin="round" stroke-linecap="round"/>
<polyline points="692.5,77 693.5,72" fill="none" stroke="#000" stroke-width="1.35" stroke-linejoin="round" stroke-linecap="round" stroke-opacity="0.75"/>
<polyline points="693.5,72 695,72.5 696.5,76 698,79 699.5,83 701,85.5 703,86 705.5,85 707.5,82 710,79.5 712,79 714,81" fill="none" stroke="#000" stroke-width="1.35" stroke-linejoin="round" stroke-linecap="round"/>
<polyline points="714,81 715,76" fill="none" stroke="#000" stroke-width="1.35" stroke-linejoin="round" stroke-linecap="round" stroke-opacity="0.75"/>
<polyline points="715,76 716,69 717,61" fill="none" stroke="#000" stroke-width="1.35" stroke-linejoin="round" stroke-linecap="round" stroke-opacity="0.5"/>
<polyline points="717,61 718.5,61" fill="none" stroke="#000" stroke-width="1.35" stroke-linejoin="round" stroke-linecap="round"/>
<polyline points="718.5,61 719,67" fill="none" stroke="#000" stroke-width="1.35" stroke-linejoin="round" stroke-linecap="round" stroke-opacity="0.5"/>
<polyline points="719,67 720,71 722,75 724,79.5 726,79.5 727.5,75.5 728.5,72 730,76 731.5,81.5 733.5,80.5" fill="none" stroke="#000" stroke-width="1.35" stroke-linejoin="round" stroke-linecap="round"/>
<polyline points="733.5,80.5 734.5,73" fill="none" stroke="#000" stroke-width="1.35" stroke-linejoin="round" stroke-linecap="round" stroke-opacity="0.5"/>
<polyline points="734.5,73 736,67 738,66 740,71 741.5,77 742.5,78.5 744,72 745.5,68 747,71 748.5,77.5 749.5,79.5 751,75 752.5,69 754,73 755.5,77.5 757.5,76 759,79.5 761,81.5 763,84.5 765,88.5 767,89.5 768.5,92 770.5,94 772,92.5 774,91.5 775.5,93 777,97.5 778.5,99.5 780.5,101 782.5,102.5 784.5,106.5 786.5,109 788.5,110.5 790,112.5 791.5,112 793,110.5 795,111 797,112.5 798.5,114 800,113 801.5,109 803,105.5 804.5,104 806,104.5 807.5,103 809,101 810.5,98.5 812,98.5 813.5,100.5 815,100 817,100.5 819,101.5 821,103 823,105 824.5,107 826,108 827.5,106 829.5,105.5 831.5,106.5 833.5,108" fill="none" stroke="#000" stroke-width="1.35" stroke-linejoin="round" stroke-linecap="round"/>
<polyline points="833.5,108 834.5,113" fill="none" stroke="#000" stroke-width="1.35" stroke-linejoin="round" stroke-linecap="round" stroke-opacity="0.75"/>
<polyline points="834.5,113 836,110 837.5,107.5 839,112.5 841,110 843,106.5 845,105.5 848,104.5 850,106.5 852,108.5 854,108 856,106.5 858.5,105.5 859.5,104.5 861.5,105" fill="none" stroke="#000" stroke-width="1.35" stroke-linejoin="round" stroke-linecap="round"/>
<polyline points="861.5,105 862.5,110" fill="none" stroke="#000" stroke-width="1.35" stroke-linejoin="round" stroke-linecap="round" stroke-opacity="0.75"/>
<polyline points="862.5,110 863.5,114.5 865.5,115 867,112.5 869,109.5 871.5,107.8 873,109 874,112.5 876,115 877.5,117.5 879,119 881.5,117.5 883.5,121 885.5,118 888,119.5 889.5,121.5 891.5,124 894,125.5 895.5,129" fill="none" stroke="#000" stroke-width="1.35" stroke-linejoin="round" stroke-linecap="round"/>
<polyline points="895.5,129 896.5,124 897.5,119" fill="none" stroke="#000" stroke-width="1.35" stroke-linejoin="round" stroke-linecap="round" stroke-opacity="0.75"/>
<polyline points="897.5,119 898.5,114.5 900.5,114.5 901.5,117 903,115 904.5,111.5 906,114.5 907,119 909,122 910.5,128" fill="none" stroke="#000" stroke-width="1.35" stroke-linejoin="round" stroke-linecap="round"/>
<polyline points="910.5,128 912,120" fill="none" stroke="#000" stroke-width="1.35" stroke-linejoin="round" stroke-linecap="round" stroke-opacity="0.75"/>
<polyline points="912,120 913,121" fill="none" stroke="#000" stroke-width="1.35" stroke-linejoin="round" stroke-linecap="round"/>
<polyline points="913,121 914,127" fill="none" stroke="#000" stroke-width="1.35" stroke-linejoin="round" stroke-linecap="round" stroke-opacity="0.75"/>
<polyline points="914,127 915.5,129.5 917,131 919,129.5 920.5,127" fill="none" stroke="#000" stroke-width="1.35" stroke-linejoin="round" stroke-linecap="round"/>
<polyline points="920.5,127 921,120.5" fill="none" stroke="#000" stroke-width="1.35" stroke-linejoin="round" stroke-linecap="round" stroke-opacity="0.5"/>
<polyline points="921,120.5 923,122 925,125 926.5,129 928,129.5 929.5,125 931,126.5 932.5,122 934.5,125 936.5,124.5 938,124 939.5,117.5 941.5,116.5 943,123 944,126 945.5,122.5 947.5,119.5 948.5,124" fill="none" stroke="#000" stroke-width="1.35" stroke-linejoin="round" stroke-linecap="round"/>
<polyline points="948.5,124 949.5,132" fill="none" stroke="#000" stroke-width="1.35" stroke-linejoin="round" stroke-linecap="round" stroke-opacity="0.5"/>
<polyline points="101,247 101.5,250" fill="none" stroke="#000" stroke-width="1.35" stroke-linejoin="round" stroke-linecap="round" stroke-opacity="0.75"/>
<polyline points="101.5,250 102.5,254 104,257.5 106.5,257.5 108,259.5 109.5,263 111,261.5 113,257.5 115,257.5 116.5,253 118,250.5 120,251.5 122,254 124.5,254.5 126,257.5 127,261.5 128.5,261" fill="none" stroke="#000" stroke-width="1.35" stroke-linejoin="round" stroke-linecap="round"/>
<polyline points="128.5,261 129,256.5 129.5,249 130.5,237" fill="none" stroke="#000" stroke-width="1.35" stroke-linejoin="round" stroke-linecap="round" stroke-opacity="0.5"/>
<polyline points="130.5,237 132,228" fill="none" stroke="#000" stroke-width="1.35" stroke-linejoin="round" stroke-linecap="round" stroke-opacity="0.75"/>
<polyline points="132,228 133.5,225 134.5,226.5 137.5,227 139,231.5 140.5,238 144,238 145,234" fill="none" stroke="#000" stroke-width="1.35" stroke-linejoin="round" stroke-linecap="round"/>
<polyline points="145,234 146,227" fill="none" stroke="#000" stroke-width="1.35" stroke-linejoin="round" stroke-linecap="round" stroke-opacity="0.5"/>
<polyline points="146,227 147,225.5 148,230" fill="none" stroke="#000" stroke-width="1.35" stroke-linejoin="round" stroke-linecap="round"/>
<polyline points="148,230 149.5,238" fill="none" stroke="#000" stroke-width="1.35" stroke-linejoin="round" stroke-linecap="round" stroke-opacity="0.75"/>
<polyline points="149.5,238 151,243 152.5,249 154.5,252 156,257.5 158,259.5 160,262 161.5,264 163,267 165,266 167,264.5 169,262" fill="none" stroke="#000" stroke-width="1.35" stroke-linejoin="round" stroke-linecap="round"/>
<polyline points="169,262 170,257" fill="none" stroke="#000" stroke-width="1.35" stroke-linejoin="round" stroke-linecap="round" stroke-opacity="0.75"/>
<polyline points="170,257 171,250" fill="none" stroke="#000" stroke-width="1.35" stroke-linejoin="round" stroke-linecap="round" stroke-opacity="0.5"/>
<polyline points="171,250 172.5,242" fill="none" stroke="#000" stroke-width="1.35" stroke-linejoin="round" stroke-linecap="round" stroke-opacity="0.75"/>
<polyline points="172.5,242 174,236 175.5,234.5 177,237.5 178.5,244" fill="none" stroke="#000" stroke-width="1.35" stroke-linejoin="round" stroke-linecap="round"/>
<polyline points="178.5,244 179.5,249.5" fill="none" stroke="#000" stroke-width="1.35" stroke-linejoin="round" stroke-linecap="round" stroke-opacity="0.75"/>
<polyline points="179.5,249.5 181,252 182.5,255 183.5,251.5 184.5,255 186,261 188,260.5 189.5,254 191,252.5 193,253.5 194.5,251.5 196,246" fill="none" stroke="#000" stroke-width="1.35" stroke-linejoin="round" stroke-linecap="round"/>
<polyline points="196,246 196.5,242" fill="none" stroke="#000" stroke-width="1.35" stroke-linejoin="round" stroke-linecap="round" stroke-opacity="0.5"/>
<polyline points="196.5,242 198,242 199.5,243 201,238 202.5,234.5 204,235.5" fill="none" stroke="#000" stroke-width="1.35" stroke-linejoin="round" stroke-linecap="round"/>
<polyline points="204,235.5 205,244" fill="none" stroke="#000" stroke-width="1.35" stroke-linejoin="round" stroke-linecap="round" stroke-opacity="0.5"/>
<polyline points="205,244 206.5,250 208,255 210,257 211.5,252 212.5,248 214.5,249 216.5,253 219,257 221,254" fill="none" stroke="#000" stroke-width="1.35" stroke-linejoin="round" stroke-linecap="round"/>
<polyline points="221,254 222,248.5" fill="none" stroke="#000" stroke-width="1.35" stroke-linejoin="round" stroke-linecap="round" stroke-opacity="0.75"/>
<polyline points="222,248.5 223,248 225,251 227,254.5 229.5,257" fill="none" stroke="#000" stroke-width="1.35" stroke-linejoin="round" stroke-linecap="round"/>
<polyline points="229.5,257 230.5,262" fill="none" stroke="#000" stroke-width="1.35" stroke-linejoin="round" stroke-linecap="round" stroke-opacity="0.75"/>
<polyline points="230.5,262 232.5,266 234,270.5 236,274 238,271.5 240,269.5 241.5,264" fill="none" stroke="#000" stroke-width="1.35" stroke-linejoin="round" stroke-linecap="round"/>
<polyline points="241.5,264 242,260" fill="none" stroke="#000" stroke-width="1.35" stroke-linejoin="round" stroke-linecap="round" stroke-opacity="0.5"/>
<polyline points="242,260 243.5,258.5 245.5,263 247,258.5 248.5,256.5 250.5,260 253,263 255,264.5 256,269" fill="none" stroke="#000" stroke-width="1.35" stroke-linejoin="round" stroke-linecap="round"/>
<polyline points="256,269 257,274" fill="none" stroke="#000" stroke-width="1.35" stroke-linejoin="round" stroke-linecap="round" stroke-opacity="0.75"/>
<polyline points="257,274 259.5,275 261.5,273 263.5,270 265.5,269.5 267,271 269,266.5 271.5,265.5 273.5,261 275,258.5 277.5,259.5 279.5,256.5 281.5,254 283.5,254.5 286,257.5 287.5,254.5 289,252.5 290,254 291.5,256.5 293,258 294,260 295.5,255 297.5,254.5 299.5,256 301,255 302,250.5 303,248.5 304.5,252 306.5,253 309,253.5 311,257 313.5,260 315,262 316.5,268 318,272 319.5,274 321,278 322.5,282 324,284 325.5,281 326.5,277.5 328.5,276.5 330.5,274.5 332.5,272.5 334.5,270.5 336.5,269.5 339,266.5 341.5,265.5 343,262 344.5,259 346,256 348.5,253.5 349.5,256.5 351,261 352.5,264.5 355,266.5 357,269 358.5,271 359.5,268 361,265 362.5,263 364,264 367,264 370,264 373,264 376,262.5 378,264.5 379.5,268.5 382,269 384,268.5 385.5,264.5 387.5,263.5 389,263 390,264 391.5,259 393.5,253 395.5,249 397,245.5 399,248 400.5,253 402,257 404,253.5 406,255.5 408.5,259 410,264 412,266.5 413.5,270" fill="none" stroke="#000" stroke-width="1.35" stroke-linejoin="round" stroke-linecap="round"/>
<polyline points="413.5,270 414.5,275" fill="none" stroke="#000" stroke-width="1.35" stroke-linejoin="round" stroke-linecap="round" stroke-opacity="0.75"/>
<polyline points="414.5,275 416,279 417.5,282 419,280 421,277.5 422.5,279.5 424,283 425.5,285 427,281.5 429,282 430.5,286 432.5,289 435,291 438,291.5 441.5,291.5 443.5,296 445.5,299.5 448,303.5 451,304 455,304.5 457,306.5 459,310.5 461,314 463,317 465,321 467,324.5 469.5,327 471,329 473,329 475.5,328.5 478,330 481,329.5 483,330 485.5,329.5 487.5,331 489,333.5 491,335.5 493.5,336 495.5,337 497,339 499,341.5 501,343.5 502.5,346 504.5,349 506.5,350.5 509.5,350.5 511.5,352 514,354.5 515.5,354 517,352.5 519,351.5 522,351 524.5,349.5 527,350 529,349.5 530.5,347 532,343.5 533.5,344 535,346.5 537,347.5 539,348.5 541.5,348" fill="none" stroke="#000" stroke-width="1.35" stroke-linejoin="round" stroke-linecap="round"/>
<polyline points="541.5,348 542.5,342" fill="none" stroke="#000" stroke-width="1.35" stroke-linejoin="round" stroke-linecap="round" stroke-opacity="0.75"/>
<polyline points="542.5,342 544,338.5 545.5,340" fill="none" stroke="#000" stroke-width="1.35" stroke-linejoin="round" stroke-linecap="round"/>
<polyline points="545.5,340 546.5,347" fill="none" stroke="#000" stroke-width="1.35" stroke-linejoin="round" stroke-linecap="round" stroke-opacity="0.5"/>
<polyline points="546.5,347 548,353 550,356 552,357 554.5,357 556.5,356.5 558.5,355 561,353 564,350.5 566,351.5 568,354 569.5,352.5 571,348 572,346.5 575,346.5 577,346.5 579.5,347.5 581.5,346 584,344.5 586.5,345 589,344.5 592,347 593.5,345.5 595,343.5 597.5,343.5 599.5,345 602,346 604,344.5 605,346 606.5,350 608,349 610.5,347.5 613,347 615,345.5 617,344.5 619,346 620.5,346.5 622.5,346 625,346.5 627,347 629,345.5 631,343.5 633.5,342.5 635.5,340.5 638,341 641,343.5 644,340.5 647,342.5 649.5,341.5 651.5,343 652.5,347 653.5,350.5 655,354 657,358.5 659.5,363" fill="none" stroke="#000" stroke-width="1.35" stroke-linejoin="round" stroke-linecap="round"/>
<polyline points="659.5,363 660.5,358" fill="none" stroke="#000" stroke-width="1.35" stroke-linejoin="round" stroke-linecap="round" stroke-opacity="0.75"/>
<polyline points="660.5,358 662,354 663.5,352.5 666,352.5 667,355.5 668.5,354.5 670,357 671,360.5 672.5,363 674.5,366 676.5,368.5 677.5,372.5 679,375.5 681,376 683,375 685,376.5 687,375.5 688.5,378" fill="none" stroke="#000" stroke-width="1.35" stroke-linejoin="round" stroke-linecap="round"/>
<polyline points="688.5,378 689,382" fill="none" stroke="#000" stroke-width="1.35" stroke-linejoin="round" stroke-linecap="round" stroke-opacity="0.5"/>
<polyline points="689,382 690.5,383 692,380" fill="none" stroke="#000" stroke-width="1.35" stroke-linejoin="round" stroke-linecap="round"/>
<polyline points="692,380 693,374" fill="none" stroke="#000" stroke-width="1.35" stroke-linejoin="round" stroke-linecap="round" stroke-opacity="0.75"/>
<polyline points="693,374 695,370 697,372 699,374.5 700.5,377.5 703,379.5 705.5,381 708,382 711,383.5 713.5,385 716,383 718,386 720,388.5 722,385.5 724.5,386.5 726.5,383.5 729,385.5 731,388 733,387 735,388.5 736.5,386 738.5,387 740.5,387.5 743,386 746,386.5 749,386.5 752.5,385 754.5,387 756,388.5 757.5,387 759.5,388.5 761.5,384.5 764,383.5 766.5,381.5 769.5,381.5 771.5,381 773,379 774,375 775,371 776.5,367 778.5,365 780.5,362.5 782,359 783.5,356 785,353 787,351 789,349 790.5,347 792,345.5 793.5,347 795,351.5 796.5,352 798.5,353.5 800.5,350.5 802.5,347.5 804,352 805.5,356 807.5,359 809.5,361.5 811.5,360 813.5,359 815,356 816.5,353.5" fill="none" stroke="#000" stroke-width="1.35" stroke-linejoin="round" stroke-linecap="round"/>
<polyline points="816.5,353.5 817.5,347" fill="none" stroke="#000" stroke-width="1.35" stroke-linejoin="round" stroke-linecap="round" stroke-opacity="0.5"/>
<polyline points="817.5,347 819,341.5 821,344 823.5,346.5 825.5,349 827,346 828.5,343" fill="none" stroke="#000" stroke-width="1.35" stroke-linejoin="round" stroke-linecap="round"/>
<polyline points="828.5,343 829,337.5" fill="none" stroke="#000" stroke-width="1.35" stroke-linejoin="round" stroke-linecap="round" stroke-opacity="0.5"/>
<polyline points="829,337.5 831,338.5 833,341.5" fill="none" stroke="#000" stroke-width="1.35" stroke-linejoin="round" stroke-linecap="round"/>
<polyline points="833,341.5 834,348" fill="none" stroke="#000" stroke-width="1.35" stroke-linejoin="round" stroke-linecap="round" stroke-opacity="0.5"/>
<polyline points="834,348 835,352 836.5,346 838,344.5 839.5,350 841,346 843,342 845,340.5 847.5,341.5 850,342 851,338 853,335.5 854.5,337 856,341 857.5,343.5 859.5,342.5 861,341.5 862,345.5" fill="none" stroke="#000" stroke-width="1.35" stroke-linejoin="round" stroke-linecap="round"/>
<polyline points="862,345.5 863,351" fill="none" stroke="#000" stroke-width="1.35" stroke-linejoin="round" stroke-linecap="round" stroke-opacity="0.75"/>
<polyline points="863,351 864.5,353 866,351 867,347 868.5,342.5 870,338.5 871,336.5 872.5,337 873.5,341" fill="none" stroke="#000" stroke-width="1.35" stroke-linejoin="round" stroke-linecap="round"/>
<polyline points="873.5,341 874.5,346" fill="none" stroke="#000" stroke-width="1.35" stroke-linejoin="round" stroke-linecap="round" stroke-opacity="0.75"/>
<polyline points="874.5,346 876,348.5 877.5,348.5 879,346.5 880,342 881,340.5 882,344 883,348 884.5,346.5" fill="none" stroke="#000" stroke-width="1.35" stroke-linejoin="round" stroke-linecap="round"/>
<polyline points="884.5,346.5 885,342" fill="none" stroke="#000" stroke-width="1.35" stroke-linejoin="round" stroke-linecap="round" stroke-opacity="0.5"/>
<polyline points="885,342 886,339" fill="none" stroke="#000" stroke-width="1.35" stroke-linejoin="round" stroke-linecap="round"/>
<polyline points="886,339 887,344" fill="none" stroke="#000" stroke-width="1.35" stroke-linejoin="round" stroke-linecap="round" stroke-opacity="0.75"/>
<polyline points="887,344 889,346.5 891,348 892.5,348.5 894.5,346.5 896,344" fill="none" stroke="#000" stroke-width="1.35" stroke-linejoin="round" stroke-linecap="round"/>
<polyline points="896,344 897,336" fill="none" stroke="#000" stroke-width="1.35" stroke-linejoin="round" stroke-linecap="round" stroke-opacity="0.5"/>
<polyline points="897,336 898,330" fill="none" stroke="#000" stroke-width="1.35" stroke-linejoin="round" stroke-linecap="round" stroke-opacity="0.75"/>
<polyline points="898,330 898.5,322" fill="none" stroke="#000" stroke-width="1.35" stroke-linejoin="round" stroke-linecap="round" stroke-opacity="0.5"/>
<polyline points="898.5,322 900,318.5 901.5,319 903,321 904.5,322 905.5,326" fill="none" stroke="#000" stroke-width="1.35" stroke-linejoin="round" stroke-linecap="round"/>
<polyline points="905.5,326 906,334 907,343 908,352" fill="none" stroke="#000" stroke-width="1.35" stroke-linejoin="round" stroke-linecap="round" stroke-opacity="0.5"/>
<polyline points="908,352 909.5,350" fill="none" stroke="#000" stroke-width="1.35" stroke-linejoin="round" stroke-linecap="round"/>
<polyline points="909.5,350 910.5,345" fill="none" stroke="#000" stroke-width="1.35" stroke-linejoin="round" stroke-linecap="round" stroke-opacity="0.75"/>
<polyline points="910.5,345 912,339" fill="none" stroke="#000" stroke-width="1.35" stroke-linejoin="round" stroke-linecap="round"/>
<polyline points="912,339 913,334" fill="none" stroke="#000" stroke-width="1.35" stroke-linejoin="round" stroke-linecap="round" stroke-opacity="0.75"/>
<polyline points="913,334 914.5,328.5 916.5,326 918,322.5 919.5,326 921.5,331" fill="none" stroke="#000" stroke-width="1.35" stroke-linejoin="round" stroke-linecap="round"/>
<polyline points="921.5,331 922,339 923,346" fill="none" stroke="#000" stroke-width="1.35" stroke-linejoin="round" stroke-linecap="round" stroke-opacity="0.5"/>
<polyline points="923,346 924.5,348.5" fill="none" stroke="#000" stroke-width="1.35" stroke-linejoin="round" stroke-linecap="round"/>
<polyline points="924.5,348.5 925.5,356" fill="none" stroke="#000" stroke-width="1.35" stroke-linejoin="round" stroke-linecap="round" stroke-opacity="0.5"/>
<polyline points="925.5,356 927,354 928.5,359.5 930,354.5 932,354 933.5,355.5 935,358.5 937.5,358 939.5,353 941,353.5 942.5,357 944,359.5 945.5,354.5 947,350.5 948.5,351" fill="none" stroke="#000" stroke-width="1.35" stroke-linejoin="round" stroke-linecap="round"/>
<polyline points="948.5,351 949.5,358" fill="none" stroke="#000" stroke-width="1.35" stroke-linejoin="round" stroke-linecap="round" stroke-opacity="0.5"/>
<rect x="100" y="419" width="851" height="31" fill="#FFC800"/>
<rect x="105" y="1091" width="8" height="4" fill="#14FF00"/>
<rect x="119" y="1091" width="8" height="4" fill="#14FF00"/>
<rect x="133" y="1091" width="8" height="4" fill="#14FF00"/>
<rect x="147" y="1091" width="8" height="4" fill="#14FF00"/>
<rect x="161" y="1091" width="8" height="4" fill="#14FF00"/>
<rect x="175" y="1091" width="8" height="4" fill="#14FF00"/>
<rect x="189" y="1091" width="8" height="4" fill="#14FF00"/>
<rect x="203" y="1091" width="8" height="4" fill="#14FF00"/>
<rect x="217" y="1091" width="8" height="4" fill="#14FF00"/>
<rect x="231" y="1091" width="8" height="4" fill="#14FF00"/>
<rect x="245" y="1091" width="8" height="4" fill="#14FF00"/>
<rect x="259" y="1091" width="8" height="4" fill="#14FF00"/>
<rect x="273" y="1091" width="8" height="4" fill="#14FF00"/>
<rect x="287" y="1091" width="8" height="4" fill="#14FF00"/>
<rect x="301" y="1091" width="8" height="4" fill="#14FF00"/>
<rect x="315" y="1091" width="8" height="4" fill="#14FF00"/>
<rect x="329" y="1091" width="8" height="4" fill="#14FF00"/>
<rect x="343" y="1091" width="8" height="4" fill="#14FF00"/>
<rect x="357" y="1091" width="8" height="4" fill="#14FF00"/>
<rect x="371" y="1091" width="8" height="4" fill="#14FF00"/>
<rect x="385" y="1091" width="8" height="4" fill="#14FF00"/>
<rect x="399" y="1091" width="8" height="4" fill="#14FF00"/>
<rect x="413" y="1091" width="8" height="4" fill="#14FF00"/>
<rect x="427" y="1091" width="8" height="4" fill="#14FF00"/>
<rect x="441" y="1091" width="8" height="4" fill="#14FF00"/>
<rect x="455" y="1091" width="8" height="4" fill="#14FF00"/>
<rect x="469" y="1091" width="8" height="4" fill="#14FF00"/>
<rect x="483" y="1091" width="8" height="4" fill="#14FF00"/>
<rect x="497" y="1091" width="8" height="4" fill="#14FF00"/>
<rect x="511" y="1091" width="8" height="4" fill="#14FF00"/>
<rect x="525" y="1091" width="8" height="4" fill="#14FF00"/>
<rect x="539" y="1091" width="8" height="4" fill="#14FF00"/>
<rect x="553" y="1091" width="8" height="4" fill="#14FF00"/>
<rect x="567" y="1091" width="8" height="4" fill="#14FF00"/>
<rect x="581" y="1091" width="8" height="4" fill="#14FF00"/>
<rect x="595" y="1091" width="8" height="4" fill="#14FF00"/>
<rect x="609" y="1091" width="8" height="4" fill="#14FF00"/>
<rect x="623" y="1091" width="8" height="4" fill="#14FF00"/>
<rect x="637" y="1091" width="8" height="4" fill="#14FF00"/>
<rect x="651" y="1091" width="8" height="4" fill="#14FF00"/>
<rect x="665" y="1091" width="8" height="4" fill="#14FF00"/>
<rect x="679" y="1091" width="8" height="4" fill="#14FF00"/>
<rect x="693" y="1091" width="8" height="4" fill="#14FF00"/>
<rect x="707" y="1091" width="8" height="4" fill="#14FF00"/>
<rect x="721" y="1091" width="8" height="4" fill="#14FF00"/>
<rect x="735" y="1091" width="8" height="4" fill="#14FF00"/>
<rect x="749" y="1091" width="8" height="4" fill="#14FF00"/>
<rect x="763" y="1091" width="8" height="4" fill="#14FF00"/>
<rect x="777" y="1091" width="8" height="4" fill="#14FF00"/>
<rect x="791" y="1091" width="8" height="4" fill="#14FF00"/>
<rect x="805" y="1091" width="8" height="4" fill="#14FF00"/>
<rect x="819" y="1091" width="8" height="4" fill="#14FF00"/>
<rect x="833" y="1091" width="8" height="4" fill="#14FF00"/>
<rect x="847" y="1091" width="8" height="4" fill="#14FF00"/>
<rect x="861" y="1091" width="8" height="4" fill="#14FF00"/>
<rect x="875" y="1091" width="8" height="4" fill="#14FF00"/>
<rect x="889" y="1091" width="8" height="4" fill="#14FF00"/>
<rect x="903" y="1091" width="8" height="4" fill="#14FF00"/>
<rect x="917" y="1091" width="8" height="4" fill="#14FF00"/>
<rect x="931" y="1091" width="8" height="4" fill="#14FF00"/>
<rect x="945" y="1091" width="6" height="4" fill="#14FF00"/>
<polygon points="499.5,780 512.0,792 499.5,804 487.0,792" fill="#0069FF"/>
<polygon points="923.5,781 936.0,793 923.5,805 911.0,793" fill="#0069FF"/>
<text x="307.64" y="48.6" font-size="31" fill="#000" stroke="#fff" stroke-width="0.78" textLength="116.61" lengthAdjust="spacingAndGlyphs" >Summit</text>
<text x="440.9" y="48.6" font-size="31" fill="#000" stroke="#fff" stroke-width="0.78" textLength="67.15" lengthAdjust="spacingAndGlyphs" >MWR</text>
<text x="525.85" y="48.6" font-size="31" fill="#000" stroke="#fff" stroke-width="0.78" textLength="77.5" lengthAdjust="spacingAndGlyphs" >2017</text>
<text x="619.94" y="48.6" font-size="31" fill="#000" stroke="#fff" stroke-width="0.78" textLength="65.97" lengthAdjust="spacingAndGlyphs" >April</text>
<text x="701.03" y="48.6" font-size="31" fill="#000" stroke="#fff" stroke-width="0.78" textLength="39.14" lengthAdjust="spacingAndGlyphs" >22</text>
<text x="44.17" y="104.9" font-size="25.5" fill="#000" stroke="#fff" stroke-width="0.64" textLength="47.53" lengthAdjust="spacingAndGlyphs" >245</text>
<text x="44.17" y="156.8" font-size="25.5" fill="#000" stroke="#fff" stroke-width="0.64" textLength="47.44" lengthAdjust="spacingAndGlyphs" >240</text>
<text x="44.17" y="207.70000000000002" font-size="25.5" fill="#000" stroke="#fff" stroke-width="0.64" textLength="47.53" lengthAdjust="spacingAndGlyphs" >235</text>
<text x="23.8" y="195.72" font-size="27" fill="#000" stroke="#fff" stroke-width="0.68" textLength="104.08" lengthAdjust="spacingAndGlyphs" transform="rotate(-90 23.8 195.72)" >Temp[K]</text>
<text x="954.89" y="256.9" font-size="20" fill="#000" stroke="#fff" stroke-width="0.30" textLength="26.51" lengthAdjust="spacingAndGlyphs" >65</text>
<text x="954.89" y="281.9" font-size="20" fill="#000" stroke="#fff" stroke-width="0.30" textLength="26.44" lengthAdjust="spacingAndGlyphs" >60</text>
<text x="955.16" y="306.9" font-size="20" fill="#000" stroke="#fff" stroke-width="0.30" textLength="26.23" lengthAdjust="spacingAndGlyphs" >55</text>
<text x="955.16" y="331.9" font-size="20" fill="#000" stroke="#fff" stroke-width="0.30" textLength="26.16" lengthAdjust="spacingAndGlyphs" >50</text>
<text x="955.57" y="356.9" font-size="20" fill="#000" stroke="#fff" stroke-width="0.30" textLength="25.81" lengthAdjust="spacingAndGlyphs" >45</text>
<text x="955.57" y="381.9" font-size="20" fill="#000" stroke="#fff" stroke-width="0.30" textLength="25.73" lengthAdjust="spacingAndGlyphs" >40</text>
<text x="58" y="352.12" font-size="24.7" fill="#000" stroke="#fff" stroke-width="0.62" textLength="33.72" lengthAdjust="spacingAndGlyphs" transform="rotate(-90 58 352.12)" >RH</text>
<text x="58" y="304.72" font-size="24.7" fill="#000" stroke="#fff" stroke-width="0.62" textLength="38.94" lengthAdjust="spacingAndGlyphs" transform="rotate(-90 58 304.72)" >[%]</text>
<text x="107.55" y="412" font-size="20.7" fill="#000" stroke="#fff" stroke-width="0.21" textLength="86.62" lengthAdjust="spacingAndGlyphs" >manual</text>
<text x="206.38" y="412" font-size="20.7" fill="#000" stroke="#fff" stroke-width="0.21" textLength="32.34" lengthAdjust="spacingAndGlyphs" >QC</text>
<text x="250.39" y="412" font-size="20.7" fill="#000" stroke="#fff" stroke-width="0.21" textLength="32.69" lengthAdjust="spacingAndGlyphs" >HF</text>
<text x="107.55" y="442" font-size="20.7" fill="#000" stroke="#FFC800" stroke-width="0.21" textLength="86.62" lengthAdjust="spacingAndGlyphs" >manual</text>
<text x="206.38" y="442" font-size="20.7" fill="#000" stroke="#FFC800" stroke-width="0.21" textLength="32.34" lengthAdjust="spacingAndGlyphs" >QC</text>
<text x="250.59" y="442" font-size="20.7" fill="#000" stroke="#FFC800" stroke-width="0.21" textLength="91.86" lengthAdjust="spacingAndGlyphs" >HATPRO</text>
<text x="61.12" y="494.6" font-size="25.5" fill="#000" stroke="#fff" stroke-width="0.64" textLength="30.34" lengthAdjust="spacingAndGlyphs" >10</text>
<text x="75.32" y="554.8" font-size="25.5" fill="#000" stroke="#fff" stroke-width="0.64" textLength="16.36" lengthAdjust="spacingAndGlyphs" >8</text>
<text x="75.08" y="620.77" font-size="25.5" fill="#000" stroke="#fff" stroke-width="0.64" textLength="16.63" lengthAdjust="spacingAndGlyphs" >6</text>
<text x="75.97" y="686.74" font-size="25.5" fill="#000" stroke="#fff" stroke-width="0.64" textLength="15.23" lengthAdjust="spacingAndGlyphs" >4</text>
<text x="75.08" y="752.7099999999999" font-size="25.5" fill="#000" stroke="#fff" stroke-width="0.64" textLength="16.85" lengthAdjust="spacingAndGlyphs" >2</text>
<text x="75.47" y="811" font-size="25.5" fill="#000" stroke="#fff" stroke-width="0.64" textLength="16.06" lengthAdjust="spacingAndGlyphs" >0</text>
<text x="38.8" y="703.39" font-size="25.5" fill="#000" stroke="#fff" stroke-width="0.64" textLength="115.18" lengthAdjust="spacingAndGlyphs" transform="rotate(-90 38.8 703.39)" >[kg/m^2]</text>
<text x="169.82" y="529.6" font-size="34.3" fill="#000" stroke="#fff" stroke-width="1.54" textLength="71.51" lengthAdjust="spacingAndGlyphs" >PWV</text>
<text x="316.0" y="530" font-size="28.5" fill="#000" stroke="#fff" stroke-width="1.00" textLength="75.9" lengthAdjust="spacingAndGlyphs" >9986</text>
<g fill="#000"><rect x="295" y="521" width="18" height="1"/><rect x="411" y="521" width="18" height="1"/><rect x="418" y="512" width="2" height="17"/><rect x="456" y="521" width="18" height="1"/></g>
<line x1="432.4" y1="537.1" x2="450.8" y2="506" stroke="#000" stroke-width="1.3"/>
<text x="316.0" y="563" font-size="28.5" fill="#FF0000" stroke="#fff" stroke-width="1.00" textLength="75.9" lengthAdjust="spacingAndGlyphs" >9986</text>
<g fill="#FF0000"><rect x="295" y="554" width="18" height="1"/><rect x="411" y="554" width="18" height="1"/><rect x="418" y="545" width="2" height="17"/><rect x="456" y="554" width="18" height="1"/></g>
<line x1="432.4" y1="570.1" x2="450.8" y2="539" stroke="#FF0000" stroke-width="1.3"/>
<text x="807.4" y="529.9" font-size="27.4" fill="#0069FF" stroke="#fff" stroke-width="0.82" textLength="131.39" lengthAdjust="spacingAndGlyphs" >sounding</text>
<text x="44.53" y="824.5" font-size="24.5" fill="#000" stroke="#fff" stroke-width="0.61" textLength="46.97" lengthAdjust="spacingAndGlyphs" >300</text>
<text x="44.07" y="865.6999999999999" font-size="24.5" fill="#000" stroke="#fff" stroke-width="0.61" textLength="47.44" lengthAdjust="spacingAndGlyphs" >250</text>
<text x="44.07" y="912.8399999999999" font-size="24.5" fill="#000" stroke="#fff" stroke-width="0.61" textLength="47.44" lengthAdjust="spacingAndGlyphs" >200</text>
<text x="45.19" y="959.9799999999999" font-size="24.5" fill="#000" stroke="#fff" stroke-width="0.61" textLength="46.3" lengthAdjust="spacingAndGlyphs" >150</text>
<text x="45.19" y="1007.1199999999999" font-size="24.5" fill="#000" stroke="#fff" stroke-width="0.61" textLength="46.3" lengthAdjust="spacingAndGlyphs" >100</text>
<text x="60.17" y="1054.26" font-size="24.5" fill="#000" stroke="#fff" stroke-width="0.61" textLength="31.33" lengthAdjust="spacingAndGlyphs" >50</text>
<text x="75.91" y="1101.3999999999999" font-size="24.5" fill="#000" stroke="#fff" stroke-width="0.61" textLength="15.59" lengthAdjust="spacingAndGlyphs" >0</text>
<text x="60.17" y="1140.2" font-size="24.5" fill="#000" stroke="#fff" stroke-width="0.61" textLength="31.33" lengthAdjust="spacingAndGlyphs" >50</text>
<line x1="43" y1="1132.7" x2="57.7" y2="1132.7" stroke="#000" stroke-width="1.3"/>
<text x="19" y="1026.92" font-size="25.5" fill="#000" stroke="#fff" stroke-width="0.64" textLength="101.14" lengthAdjust="spacingAndGlyphs" transform="rotate(-90 19 1026.92)" >[g/m^2]</text>
<text x="169.74" y="857.8" font-size="36" fill="#000" stroke="#fff" stroke-width="1.62" textLength="70.38" lengthAdjust="spacingAndGlyphs" >LWP</text>
<text x="301.0" y="858" font-size="29.5" fill="#000" stroke="#fff" stroke-width="1.03" textLength="85.23" lengthAdjust="spacingAndGlyphs" >999.5</text>
<text x="501.07" y="858" font-size="29.5" fill="#000" stroke="#fff" stroke-width="1.03" textLength="85.26" lengthAdjust="spacingAndGlyphs" >0.000</text>
<g fill="#000"><rect x="280" y="849" width="18" height="1"/><rect x="405" y="849" width="18" height="1"/><rect x="413" y="840" width="2" height="17"/><rect x="450" y="849" width="19" height="1"/></g>
<line x1="427.8" y1="864.9" x2="445.4" y2="833.2" stroke="#000" stroke-width="1.3"/>
<text x="301.0" y="891" font-size="29.5" fill="#FF0000" stroke="#fff" stroke-width="1.03" textLength="85.23" lengthAdjust="spacingAndGlyphs" >999.5</text>
<text x="501.07" y="891" font-size="29.5" fill="#FF0000" stroke="#fff" stroke-width="1.03" textLength="85.26" lengthAdjust="spacingAndGlyphs" >0.000</text>
<g fill="#FF0000"><rect x="280" y="882" width="18" height="1"/><rect x="405" y="882" width="18" height="1"/><rect x="413" y="873" width="2" height="17"/><rect x="450" y="882" width="19" height="1"/></g>
<line x1="427.8" y1="897.9" x2="445.4" y2="866.2" stroke="#FF0000" stroke-width="1.3"/>
<text x="91.45" y="1170.6" font-size="24.7" fill="#000" stroke="#fff" stroke-width="0.62" textLength="16.35" lengthAdjust="spacingAndGlyphs" >0</text>
<text x="197.59" y="1170.6" font-size="24.7" fill="#000" stroke="#fff" stroke-width="0.62" textLength="16.19" lengthAdjust="spacingAndGlyphs" >3</text>
<text x="304.22" y="1170.6" font-size="24.7" fill="#000" stroke="#fff" stroke-width="0.62" textLength="15.07" lengthAdjust="spacingAndGlyphs" >6</text>
<text x="409.2" y="1170.6" font-size="24.7" fill="#000" stroke="#fff" stroke-width="0.62" textLength="16.62" lengthAdjust="spacingAndGlyphs" >9</text>
<text x="508.66" y="1170.6" font-size="24.7" fill="#000" stroke="#fff" stroke-width="0.62" textLength="31.93" lengthAdjust="spacingAndGlyphs" >12</text>
<text x="614.73" y="1170.6" font-size="24.7" fill="#000" stroke="#fff" stroke-width="0.62" textLength="31.66" lengthAdjust="spacingAndGlyphs" >15</text>
<text x="721.99" y="1170.6" font-size="24.7" fill="#000" stroke="#fff" stroke-width="0.62" textLength="30.81" lengthAdjust="spacingAndGlyphs" >18</text>
<text x="827.11" y="1170.6" font-size="24.7" fill="#000" stroke="#fff" stroke-width="0.62" textLength="28.43" lengthAdjust="spacingAndGlyphs" >21</text>
<text x="933.04" y="1170.6" font-size="24.7" fill="#000" stroke="#fff" stroke-width="0.62" textLength="32.2" lengthAdjust="spacingAndGlyphs" >24</text>
<text x="45.86" y="1197.4" font-size="29" fill="#000" stroke="#fff" stroke-width="0.73" textLength="120.91" lengthAdjust="spacingAndGlyphs" >ICECAPS</text>
<text x="430.02" y="1196" font-size="24.7" fill="#000" stroke="#fff" stroke-width="0.62" textLength="57.53" lengthAdjust="spacingAndGlyphs" >Time</text>
<text x="500.46" y="1196" font-size="24.7" fill="#000" stroke="#fff" stroke-width="0.62" textLength="67.48" lengthAdjust="spacingAndGlyphs" >(UTC)</text>
<text x="580.26" y="1196" font-size="24.7" fill="#000" stroke="#fff" stroke-width="0.62" textLength="36.48" lengthAdjust="spacingAndGlyphs" >[h]</text>
<text x="736.46" y="1190.7" font-size="20" fill="#000" textLength="50.65" lengthAdjust="spacingAndGlyphs" >SSEC</text>
<text x="824.01" y="1190.7" font-size="20" fill="#000" textLength="41.16" lengthAdjust="spacingAndGlyphs" >Univ</text>
<text x="874.69" y="1190.7" font-size="20" fill="#000" textLength="19.97" lengthAdjust="spacingAndGlyphs" >of</text>
<text x="905.71" y="1190.7" font-size="20" fill="#000" textLength="93.32" lengthAdjust="spacingAndGlyphs" >Wisconsin</text>
<line x1="800" y1="1184.5" x2="812" y2="1184.5" stroke="#000" stroke-width="1.6"/>
<text x="967.3" y="463.84" font-size="24.3" fill="#000" stroke="#fff" stroke-width="0.61" textLength="112.59" lengthAdjust="spacingAndGlyphs" transform="rotate(90 967.3 463.84)" >statistical</text>
<text x="967.3" y="589.28" font-size="24.3" fill="#000" stroke="#fff" stroke-width="0.61" textLength="110.9" lengthAdjust="spacingAndGlyphs" transform="rotate(90 967.3 589.28)" >retrievals</text>
<text x="967.3" y="707.43" font-size="26" fill="#000" stroke="#fff" stroke-width="0.65" textLength="65.22" lengthAdjust="spacingAndGlyphs" transform="rotate(90 967.3 707.43)" >(23.8</text>
<text x="967.3" y="811.16" font-size="26" fill="#000" stroke="#fff" stroke-width="0.65" textLength="58.01" lengthAdjust="spacingAndGlyphs" transform="rotate(90 967.3 811.16)" >31.4</text>
<text x="967.3" y="880.76" font-size="26" fill="#000" stroke="#fff" stroke-width="0.65" textLength="62.09" lengthAdjust="spacingAndGlyphs" transform="rotate(90 967.3 880.76)" >GHz)</text>
<text x="967.3" y="941.15" font-size="26" fill="#FF0000" stroke="#fff" stroke-width="0.65" textLength="64.27" lengthAdjust="spacingAndGlyphs" transform="rotate(90 967.3 941.15)" >(23.8</text>
<text x="967.3" y="1049.85" font-size="26" fill="#FF0000" stroke="#fff" stroke-width="0.65" textLength="29.69" lengthAdjust="spacingAndGlyphs" transform="rotate(90 967.3 1049.85)" >90</text>
<text x="967.3" y="1092.12" font-size="26" fill="#FF0000" stroke="#fff" stroke-width="0.65" textLength="54.84" lengthAdjust="spacingAndGlyphs" transform="rotate(90 967.3 1092.12)" >GHz)</text>
<rect x="974" y="787" width="2" height="14" fill="#000"/><rect x="968" y="794" width="14" height="1" fill="#000"/>
<rect x="974" y="1020" width="2" height="14" fill="#FF0000"/><rect x="968" y="1027" width="14" height="1" fill="#FF0000"/>
</svg>
</body></html>
